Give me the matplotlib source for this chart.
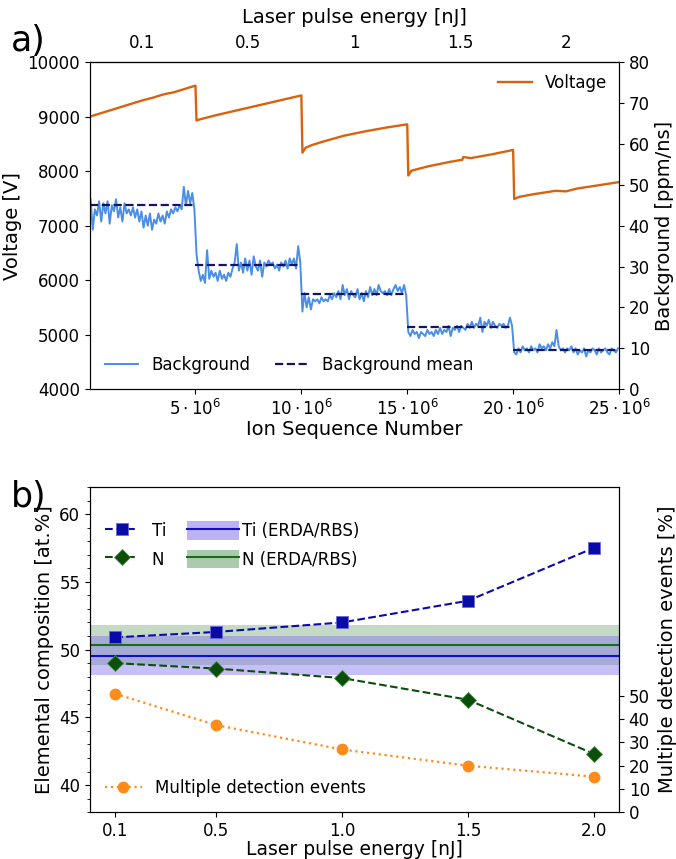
import numpy as np
import matplotlib
matplotlib.use("Agg")
import matplotlib.pyplot as plt
from matplotlib.lines import Line2D
from matplotlib.patches import Patch

# ---------------- data: panel a ----------------
# voltage key points (ion sequence number in units of 1e6, voltage in V)
volt_x = [0, 0.5, 1, 1.5, 2, 2.5, 3, 3.5, 4, 4.5, 5.0,
          5.05, 5.2, 6, 7, 8, 9, 10.0,
          10.05, 10.2, 10.5, 11, 12, 13, 14, 15.0,
          15.05, 15.2, 15.5, 16, 17, 17.6, 17.65, 18, 19, 20.0,
          20.05, 20.3, 21, 22, 22.5, 23, 24, 25]
volt_y = [9000, 9060, 9120, 9180, 9240, 9300, 9350, 9410, 9450, 9510, 9570,
          8930, 8950, 9030, 9120, 9210, 9300, 9390,
          8340, 8430, 8480, 8540, 8650, 8730, 8800, 8860,
          7920, 8010, 8040, 8090, 8170, 8210, 8260, 8240, 8310, 8390,
          7490, 7530, 7580, 7640, 7630, 7680, 7740, 7800]

# background rate [ppm/ns], sampled every 0.1e6 ions
bg_seg1 = [46.5, 39, 44, 42.5, 46, 41, 45.5, 43, 46, 40.5, 45, 43.5, 46.5, 42, 44.5, 41,
           45.5, 43, 44, 42.5, 44.5, 42, 44, 41, 43.5, 39.5, 42.5, 40, 43, 39, 41.5, 40.5,
           43, 41, 42.5, 40.5, 43.5, 42, 44, 43, 44.5, 43.5, 45, 44, 49.5, 45, 48.5, 45.5,
           48, 44]
bg_seg2 = [33, 29, 26.5, 28, 26, 34, 27, 29, 27.5, 28.5, 26.5, 29, 27, 28, 26.5, 28.5,
           27.5, 29.5, 31, 35.5, 29, 31, 28.5, 32, 29, 31.5, 28, 32.5, 30, 29, 31.5, 27.5,
           31, 30, 31.5, 30.5, 31, 29.5, 30.5, 29, 31, 30, 31.5, 29.5, 32, 30.5, 32, 29.5,
           35, 31]
bg_seg3 = [19, 23.5, 20, 22.5, 19.5, 22, 21.5, 22, 21, 22.5, 21.5, 22, 21.5, 23, 22, 23.5,
           22.5, 24, 22, 25.5, 23, 24.5, 22, 24, 23, 22.5, 24.5, 22, 23.5, 21.5, 24, 22.5,
           25, 23, 24.5, 23, 25.5, 24, 23.5, 24, 23, 24.5, 23, 24.5, 25.5, 24, 25, 23.5,
           25.5, 23]
bg_seg4 = [14, 13, 14.5, 13.5, 14, 12.5, 14, 13.5, 13, 14.5, 13.5, 14, 13, 14.5, 13.5, 15,
           13.5, 14.5, 14, 15.5, 13, 15, 14.5, 15.5, 14, 15.5, 15, 14.5, 16, 15, 16.5, 15,
           16, 15.5, 17.5, 14, 16.5, 15.5, 17, 15, 16.5, 15.5, 15, 16, 15.5, 16, 15, 15.5,
           17.5, 15.5]
bg_seg5 = [9, 8.5, 10, 9, 10.5, 9.5, 10, 9, 10.5, 9.5, 10, 9, 11, 10, 10.5, 9.5, 11, 10,
           11.5, 10.5, 14.5, 10.5, 9.5, 10, 9, 10, 9.5, 10.5, 9, 10, 8.5, 9.5, 9, 10, 8,
           9.5, 9, 10, 9.5, 8.5, 10, 9, 9.5, 10, 9, 8.5, 10, 9.5, 9, 10]
bg_means = [45.1, 30.4, 23.3, 15.2, 9.6]
segment_edges = [0, 5, 10, 15, 20, 25]          # in 1e6 ions
energy_labels_top = ['0.1', '0.5', '1', '1.5', '2']

# ---------------- data: panel b ----------------
energy = [0.1, 0.5, 1.0, 1.5, 2.0]
ti_apt = [50.9, 51.3, 52.0, 53.6, 57.5]
n_apt = [49.0, 48.6, 47.9, 46.3, 42.3]
multi_events = [51, 37.5, 27, 20, 15.3]
ti_erda, ti_erda_err = 49.55, 1.45
n_erda, n_erda_err = 50.35, 1.5

# ---------------- figure ----------------
fig = plt.figure(figsize=(6.76, 8.59), dpi=100)
ax1 = fig.add_axes([0.1325, 0.5469, 0.7832, 0.3807])
ax1r = ax1.twinx()

c_volt = '#d9620f'
c_bg = '#4a8ee6'
c_mean = '#141466'

vx = np.array(volt_x) * 1e6
ax1.plot(vx, volt_y, color=c_volt, lw=1.7, label='Voltage')
ax1.set_xlim(0, 25e6)
ax1.set_ylim(4000, 10000)
ax1.set_yticks(np.arange(4000, 10001, 1000))
ax1.set_xticks([5e6, 10e6, 15e6, 20e6, 25e6])
ax1.set_xticklabels([r'$5\cdot10^{6}$', r'$10\cdot10^{6}$', r'$15\cdot10^{6}$',
                     r'$20\cdot10^{6}$', r'$25\cdot10^{6}$'])
ax1.set_ylabel('Voltage [V]', fontsize=14)
ax1.set_xlabel('Ion Sequence Number', fontsize=14, labelpad=1)
ax1.tick_params(labelsize=12)

bg = np.concatenate([bg_seg1, bg_seg2, bg_seg3, bg_seg4, bg_seg5])
bx = (np.arange(len(bg)) + 0.5) * 0.1e6
ax1r.plot(bx, bg, color=c_bg, lw=1.4, label='Background')
for i, m in enumerate(bg_means):
    ax1r.plot([segment_edges[i] * 1e6, segment_edges[i + 1] * 1e6], [m, m],
              color=c_mean, ls='--', lw=1.6, label='Background mean' if i == 0 else None)
ax1r.set_ylim(0, 80)
ax1r.set_yticks(np.arange(0, 81, 10))
ax1r.set_ylabel('Background [ppm/ns]', fontsize=14)
ax1r.tick_params(labelsize=12)

ax1.legend(loc='upper right', frameon=False, fontsize=12, borderaxespad=0.3)
ax1r.legend(loc='lower left', frameon=False, fontsize=12, ncol=2, columnspacing=1.5)

top = ax1.secondary_xaxis('top')
centers = [(segment_edges[i] + segment_edges[i + 1]) / 2 * 1e6 for i in range(5)]
top.set_xticks(centers)
top.set_xticklabels(energy_labels_top)
top.tick_params(labelsize=12, length=0, pad=7)
top.set_xlabel('Laser pulse energy [nJ]', fontsize=14, labelpad=8)

fig.text(0.016, 0.952, 'a)', fontsize=25, va='center')

# ---------------- panel b ----------------
ax2 = fig.add_axes([0.1331, 0.0545, 0.7826, 0.3786])
ax2r = ax2.twinx()

c_ti = '#0a0aa8'
c_n = '#0b4d0b'
c_orange = '#ff8c1a'
band_ti = '#7b68ee'
band_n = '#2e7d32'

ax2.axhspan(n_erda - n_erda_err, n_erda + n_erda_err, color=band_n, alpha=0.28, lw=0)
ax2.axhspan(ti_erda - ti_erda_err, ti_erda + ti_erda_err, color=band_ti, alpha=0.42, lw=0)
ax2.axhline(n_erda, color='#1a6b1a', lw=1.5)
ax2.axhline(ti_erda, color='#1010c0', lw=1.5)

l_ti, = ax2.plot(energy, ti_apt, ls='--', color=c_ti, marker='s', ms=8, lw=1.5,
                 markeredgecolor='#6a6ad8', markeredgewidth=0.6, label='Ti')
l_n, = ax2.plot(energy, n_apt, ls='--', color=c_n, marker='D', ms=8, lw=1.5,
                markeredgecolor='#4a8a4a', markeredgewidth=0.6, label='N')
ax2.set_xlim(0, 2.1)
ax2.set_ylim(38, 62)
ax2.set_yticks([40, 45, 50, 55, 60])
ax2.set_yticks(np.arange(38, 63, 1), minor=True)
ax2.set_xticks(energy)
ax2.set_xticklabels(['0.1', '0.5', '1.0', '1.5', '2.0'])
ax2.tick_params(labelsize=12)
ax2.set_ylabel('Elemental composition [at.%]', fontsize=14)
ax2.set_xlabel('Laser pulse energy [nJ]', fontsize=13.5, labelpad=0)

l_m, = ax2r.plot(energy, multi_events, ls=':', color=c_orange, marker='o', ms=7.5, lw=1.6,
                 label='Multiple detection events')
ax2r.set_ylim(0, 140)
ax2r.set_yticks(np.arange(0, 51, 10))
ax2r.tick_params(labelsize=12)
ax2r.set_ylabel('Multiple detection events [%]', fontsize=14, labelpad=6)

legA = ax2r.legend([l_ti, l_n], ['Ti', 'N'],
                   loc='upper left', bbox_to_anchor=(0.0, 0.94), frameon=False,
                   fontsize=12, handlelength=2.0, handleheight=1.3, labelspacing=0.6,
                   handletextpad=0.8)
ax2r.add_artist(legA)
h_ti_erda = (Patch(facecolor=band_ti, alpha=0.5, lw=0), Line2D([], [], color='#1010c0', lw=1.5))
h_n_erda = (Patch(facecolor=band_n, alpha=0.4, lw=0), Line2D([], [], color='#1a6b1a', lw=1.5))
legB = ax2r.legend([h_ti_erda, h_n_erda], ['Ti (ERDA/RBS)', 'N (ERDA/RBS)'],
                   loc='upper left', bbox_to_anchor=(0.155, 0.94), frameon=False,
                   fontsize=12, handlelength=3.1, handleheight=1.3, labelspacing=0.6,
                   handletextpad=0.2)
ax2r.add_artist(legB)
ax2r.legend([l_m], ['Multiple detection events'], loc='lower left', frameon=False,
            fontsize=12, handlelength=2.2, handletextpad=0.8)

fig.text(0.016, 0.421, 'b)', fontsize=25, va='center')

fig.savefig('out.png', dpi=100)
